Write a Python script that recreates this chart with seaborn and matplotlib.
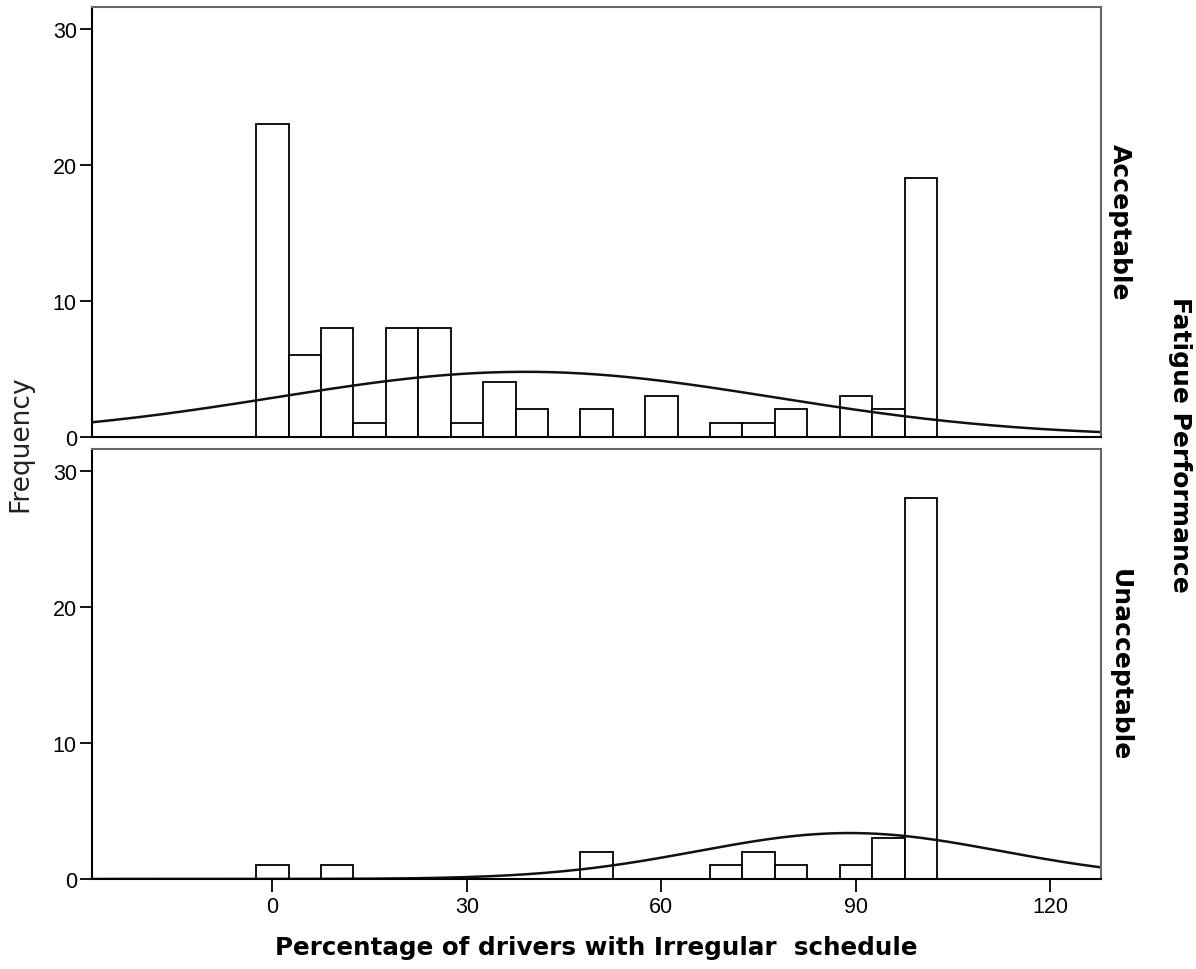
import numpy as np
import pandas as pd
import seaborn as sns
import matplotlib.pyplot as plt

# bin centres (width 5) and counts
centers = [0, 5, 10, 15, 20, 25, 30, 35, 40, 45, 50, 55, 60, 65, 70, 75, 80, 85, 90, 95, 100]
acceptable = [23, 6, 8, 1, 8, 8, 1, 4, 2, 0, 2, 0, 3, 0, 1, 1, 2, 0, 3, 2, 19]
unacceptable = [1, 0, 1, 0, 0, 0, 0, 0, 0, 0, 2, 0, 0, 0, 1, 2, 1, 0, 1, 3, 28]
groups = ["Acceptable", "Unacceptable"]

# normal curves SPSS overlays (mean, sd, peak height)
curve_params = {"Acceptable": (39.0, 38.4, 4.76), "Unacceptable": (89.0, 23.4, 3.38)}

x_ticks = [0, 30, 60, 90, 120]
y_ticks = [0, 10, 20, 30]
x_lim = (-27.8, 127.8)
y_lim = (0, 31.6)

df = pd.concat([
    pd.DataFrame({"group": "Acceptable", "pct": centers, "n": acceptable}),
    pd.DataFrame({"group": "Unacceptable", "pct": centers, "n": unacceptable}),
])

sns.set_style("white")
plt.rcParams["font.family"] = ["Liberation Sans", "DejaVu Sans"]
plt.rcParams["text.color"] = "black"

label_font = ["DejaVu Sans"]

fig, axes = plt.subplots(2, 1, figsize=(11.96, 9.70), dpi=100, sharex=True)
fig.subplots_adjust(left=0.077, right=0.9206, top=0.9918, bottom=0.0928, hspace=0.03)

xs = np.linspace(x_lim[0], x_lim[1], 400)

for ax, g in zip(axes, groups):
    sub = df[df["group"] == g]
    sns.histplot(data=sub, x="pct", weights="n", binwidth=5, binrange=(-2.5, 102.5),
                 color="white", edgecolor="black", linewidth=1.3, alpha=1, ax=ax)
    m, s, peak = curve_params[g]
    sns.lineplot(x=xs, y=peak * np.exp(-(xs - m) ** 2 / (2 * s ** 2)),
                 color="#111111", linewidth=1.8, ax=ax)
    ax.set_xlim(*x_lim)
    ax.set_ylim(*y_lim)
    ax.set_yticks(y_ticks)
    ax.set_ylabel("")
    ax.set_xlabel("")
    for side in ["left", "bottom"]:
        ax.spines[side].set_color("black")
        ax.spines[side].set_linewidth(1.5)
    for side in ["top", "right"]:
        ax.spines[side].set_color("#666666")
        ax.spines[side].set_linewidth(1.5)
    ax.tick_params(axis="y", left=True, direction="out", length=9, width=1.3,
                   labelsize=15.5, colors="black", pad=2)
    ax.text(1.019, 0.5, g, transform=ax.transAxes, rotation=-90, ha="center",
            va="center", fontsize=18, fontweight="bold", family=label_font)

axes[0].tick_params(axis="x", bottom=False)
axes[1].set_xticks(x_ticks)
axes[1].tick_params(axis="x", bottom=True, direction="out", length=9, width=1.3,
                    labelsize=15.5, colors="black", pad=3)

fig.text(0.017, 0.543, "Frequency", rotation=90, ha="center", va="center",
         fontsize=19, color="#222222", family=label_font)
fig.text(0.4987, 0.0227, "Percentage of drivers with Irregular  schedule",
         ha="center", va="center", fontsize=17.7, fontweight="bold", family=label_font)
fig.text(0.9866, 0.541, "Fatigue Performance", rotation=-90, ha="center",
         va="center", fontsize=18, fontweight="bold", family=label_font)

fig.savefig("out.png", dpi=100)
